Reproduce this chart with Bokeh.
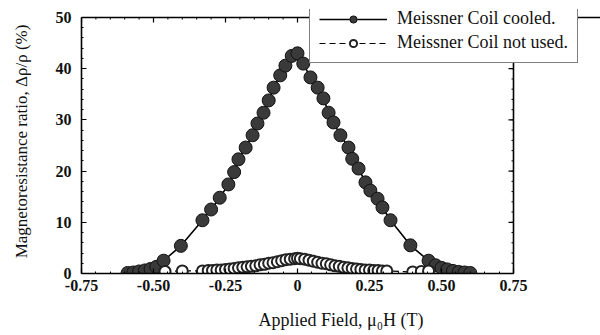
from bokeh.plotting import figure
from bokeh.models import Range1d, LinearAxis, FixedTicker, Legend, LegendItem, Span
from bokeh.embed import file_html
from bokeh.resources import INLINE

# Meissner coil cooled (filled circles, solid line)
cooled_x = [-0.59, -0.57, -0.55, -0.53, -0.51, -0.49, -0.465, -0.405, -0.33, -0.30,
            -0.27, -0.24, -0.22, -0.205, -0.18, -0.156, -0.139, -0.118, -0.10, -0.083,
            -0.06, -0.042, -0.02, 0.0, 0.02, 0.045, 0.07, 0.09, 0.108, 0.125,
            0.149, 0.177, 0.19, 0.212, 0.236, 0.253, 0.278, 0.295, 0.323, 0.392,
            0.455, 0.48, 0.50, 0.52, 0.54, 0.56, 0.58, 0.60]
cooled_y = [0.1, 0.2, 0.4, 0.6, 0.9, 1.3, 2.5, 5.4, 10.4, 12.5,
            14.8, 17.4, 19.8, 22.3, 24.6, 27.0, 29.3, 31.4, 33.8, 36.3,
            38.7, 40.6, 42.5, 43.0, 41.0, 38.3, 36.3, 34.2, 31.4, 29.5,
            27.0, 24.6, 22.4, 20.5, 17.8, 16.2, 14.6, 12.9, 10.4, 5.5,
            2.5, 1.6, 1.1, 0.8, 0.5, 0.3, 0.2, 0.1]

# Meissner coil not used (open circles, dashed line)
notused_x = [-0.46, -0.40, -0.33, -0.31, -0.295, -0.28, -0.265, -0.25, -0.235, -0.22,
             -0.205, -0.19, -0.175, -0.16, -0.145, -0.13, -0.115, -0.10, -0.085, -0.07,
             -0.055, -0.04, -0.025, -0.01, 0.0, 0.01, 0.025, 0.04, 0.055, 0.07,
             0.085, 0.10, 0.115, 0.13, 0.145, 0.16, 0.175, 0.19, 0.205, 0.22,
             0.235, 0.25, 0.265, 0.28, 0.295, 0.31, 0.40, 0.43, 0.455]
notused_y = [0.4, 0.5, 0.5, 0.6, 0.6, 0.7, 0.7, 0.8, 0.9, 1.0,
             1.1, 1.2, 1.3, 1.4, 1.5, 1.7, 1.8, 2.0, 2.1, 2.3,
             2.5, 2.7, 2.8, 2.9, 3.0, 2.9, 2.8, 2.6, 2.4, 2.2,
             2.0, 1.9, 1.7, 1.5, 1.4, 1.2, 1.1, 1.0, 0.9, 0.8,
             0.7, 0.7, 0.6, 0.6, 0.5, 0.5, 0.3, 0.4, 0.5]

x_ticks = [-0.75, -0.5, -0.25, 0.0, 0.25, 0.5, 0.75]
x_tick_labels = {-0.75: "-0.75", -0.5: "-0.50", -0.25: "-0.25", 0.0: "0",
                 0.25: "0.25", 0.5: "0.50", 0.75: "0.75"}
y_ticks = [0, 10, 20, 30, 40, 50]
x_min, x_max = -0.75, 0.75
y_min, y_max = 0, 50

SERIF = "Liberation Serif"

# Frame layout (pixels): left 81, top 9, bottom 273, right 600
W, H = 600, 335
FL, FT, FB, FR = 81, 9, 273, 600
px_per_x = (513 - FL) / (x_max - x_min)
px_per_y = (FB - 17) / (y_max - y_min)
x_end = x_min + (FR - FL) / px_per_x
y_end = y_min + (FB - FT) / px_per_y

p = figure(width=W, height=H, output_backend="svg", toolbar_location=None,
           x_range=Range1d(x_min, x_end), y_range=Range1d(y_min, y_end),
           min_border_left=FL, min_border_right=0, min_border_top=FT,
           min_border_bottom=H - FB, x_axis_location=None, y_axis_location=None)
p.grid.visible = False
p.outline_line_color = None
p.background_fill_color = "white"
p.border_fill_color = "white"

minor_x = [round(-0.75 + 0.05 * i, 3) for i in range(31)]
minor_y = [2 * i for i in range(26)]

def style_axis(ax):
    ax.axis_line_width = 1.6
    ax.axis_line_color = "black"
    ax.major_tick_in = 5
    ax.major_tick_out = 0
    ax.minor_tick_in = 2
    ax.minor_tick_out = 0
    ax.major_tick_line_width = 1.2
    ax.minor_tick_line_width = 1
    ax.major_label_text_font = SERIF
    ax.major_label_text_font_size = "16px"
    ax.major_label_text_font_style = "bold"
    ax.major_label_text_color = "#111111"
    ax.axis_label_text_font = SERIF
    ax.axis_label_text_font_style = "normal"
    ax.axis_label_text_color = "#111111"

xb = LinearAxis(ticker=FixedTicker(ticks=x_ticks, minor_ticks=minor_x),
                axis_label="Applied Field, μ₀H (T)", bounds=(x_min, x_max))
xb.major_label_overrides = x_tick_labels
style_axis(xb)
xb.axis_label_text_font_size = "18px"
xb.major_label_standoff = 6
xb.axis_label_standoff = 16
p.add_layout(xb, "below")

yl = LinearAxis(ticker=FixedTicker(ticks=y_ticks, minor_ticks=minor_y),
                axis_label="Magnetoresistance ratio, Δρ/ρ (%)", bounds=(y_min, y_max))
style_axis(yl)
yl.axis_label_text_font_size = "17px"
yl.major_label_standoff = 10
yl.axis_label_standoff = 22
p.add_layout(yl, "left")

# right and top frame lines with inward ticks
p.add_layout(Span(location=x_max, dimension="height", line_color="black", line_width=1.6))
p.add_layout(Span(location=y_max, dimension="width", line_color="black", line_width=1.6))
tx = 5 / px_per_x
ty = 5 / px_per_y
p.segment(x0=[x_max] * len(y_ticks), y0=y_ticks, x1=[x_max - tx] * len(y_ticks), y1=y_ticks,
          line_color="black", line_width=1.2)
p.segment(x0=[x_max] * len(minor_y), y0=minor_y, x1=[x_max - tx * 0.4] * len(minor_y), y1=minor_y,
          line_color="black", line_width=1)
p.segment(x0=x_ticks, y0=[y_max] * len(x_ticks), x1=x_ticks, y1=[y_max - ty] * len(x_ticks),
          line_color="black", line_width=1.2)
p.segment(x0=minor_x, y0=[y_max] * len(minor_x), x1=minor_x, y1=[y_max - ty * 0.4] * len(minor_x),
          line_color="black", line_width=1)

l1 = p.line(cooled_x, cooled_y, line_color="black", line_width=1.6)
s1 = p.scatter(cooled_x, cooled_y, marker="circle", size=13,
               fill_color="#3a3a3a", line_color="#111111", line_width=1)
l2 = p.line(notused_x, notused_y, line_color="black", line_width=1.2, line_dash="6 4")
s2 = p.scatter(notused_x, notused_y, marker="circle", size=11,
               fill_color="white", line_color="#222222", line_width=2)

legend = Legend(items=[
    LegendItem(label="Meissner Coil cooled.", renderers=[l1, s1]),
    LegendItem(label="Meissner Coil not used.", renderers=[l2, s2]),
], location=(309 - FL, FB - 63))
legend.label_text_font = SERIF
legend.label_text_font_size = "18px"
legend.label_text_color = "#111111"
legend.glyph_width = 68
legend.glyph_height = 18
legend.label_standoff = 10
legend.label_height = 18
legend.spacing = 3
legend.padding = 9
legend.margin = 0
legend.border_line_color = "black"
legend.border_line_width = 1.5
legend.background_fill_color = "white"
legend.background_fill_alpha = 1.0
p.add_layout(legend, "center")

open("out.html", "w").write(file_html(p, INLINE))
